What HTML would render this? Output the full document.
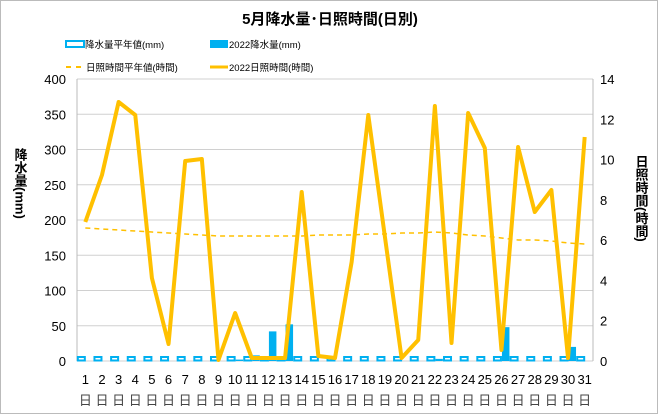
<!DOCTYPE html>
<html><head><meta charset="utf-8"><style>
body{margin:0;background:#fff}
svg{display:block;font-family:"Liberation Sans","Noto Sans CJK JP",sans-serif}
</style></head><body>
<svg id="s" width="660" height="415" xmlns="http://www.w3.org/2000/svg">
<rect x="0.5" y="0.5" width="657" height="413" fill="#fff" stroke="#bbb"/>
<text x="330" y="24" text-anchor="middle" font-size="15" font-weight="bold" fill="#000">5月降水量･日照時間(日別)</text>
<rect x="66" y="41" width="18" height="6" fill="#fff" stroke="#00b0f0" stroke-width="2"/>
<text x="85" y="48" font-size="9.5">降水量平年値(mm)</text>
<rect x="210" y="40" width="18" height="8" fill="#00b0f0"/>
<text x="229" y="48" font-size="9.5">2022降水量(mm)</text>
<line x1="66" y1="67" x2="84" y2="67" stroke="#ffc000" stroke-width="2" stroke-dasharray="5,5"/>
<text x="86" y="71" font-size="9.5">日照時間平年値(時間)</text>
<line x1="210" y1="67" x2="228" y2="67" stroke="#ffc000" stroke-width="3"/>
<text x="229" y="71" font-size="9.5">2022日照時間(時間)</text>
<g id="g"></g>
<text x="20" y="148" font-size="13" font-weight="bold" writing-mode="tb" text-anchor="start">降水量(mm)</text>
<text x="641" y="155" font-size="13" font-weight="bold" writing-mode="tb" text-anchor="start">日照時間(時間)</text>
</svg>
<script>
var g=document.getElementById('g'),h='';
var L=77,R=593,T=79,B=361,W=(R-L)/31;
for(var i=0;i<=8;i++){var y=B-i*(B-T)/8;h+='<line x1="'+L+'" y1="'+y+'" x2="'+R+'" y2="'+y+'" stroke="#d0d0d0"/>';
h+='<text x="66" y="'+(y+5)+'" font-size="13" text-anchor="end">'+(i*50)+'</text>';}
for(var i=0;i<=7;i++){var y=B-i*(B-T)/7;h+='<text x="600" y="'+(y+5)+'" font-size="13">'+(i*2)+'</text>';}
h+='<line x1="'+L+'" y1="'+T+'" x2="'+L+'" y2="'+B+'" stroke="#bbb"/><line x1="'+R+'" y1="'+T+'" x2="'+R+'" y2="'+B+'" stroke="#bbb"/>';
var rain={10:2,11:8,12:42,13:52,22:3,26:48,30:20};
var py=[222,175,102,115,278,344,161,159,360,313,358,358,358,192,356,358,262,115,237,358,340,106,343,113,148,350,147,212,190,358,137];
var ny=[228,229,230,231,232,233,234,235,236,236,236,236,236,236,235,235,235,234,234,233,233,232,233,235,236,238,240,240,241,243,244];
for(var d=1;d<=31;d++){var cx=L+(d-0.5)*W;
h+='<rect x="'+(cx-7.5)+'" y="'+(B-4)+'" width="7" height="3.5" fill="#fff" stroke="#00b0f0" stroke-width="2"/>';
if(rain[d]){var hh=rain[d]*(B-T)/400;h+='<rect x="'+(cx+0.5)+'" y="'+(B-hh)+'" width="7.5" height="'+hh+'" fill="#00b0f0"/>';}
h+='<text x="'+cx+'" y="384" font-size="13" text-anchor="middle">'+d+'</text>';
h+='<text x="'+cx+'" y="405" font-size="13" text-anchor="middle" fill="#444">日</text>';}
var p1='',p2='';for(var d=1;d<=31;d++){var cx=L+(d-0.5)*W;p1+=cx+','+py[d-1]+' ';p2+=cx+','+ny[d-1]+' ';}
h+='<polyline points="'+p2+'" fill="none" stroke="#ffc000" stroke-width="1.5" stroke-dasharray="5,4"/>';
h+='<polyline points="'+p1+'" fill="none" stroke="#ffc000" stroke-width="4" stroke-linejoin="round"/>';
g.innerHTML=h;
</script>
</body></html>
